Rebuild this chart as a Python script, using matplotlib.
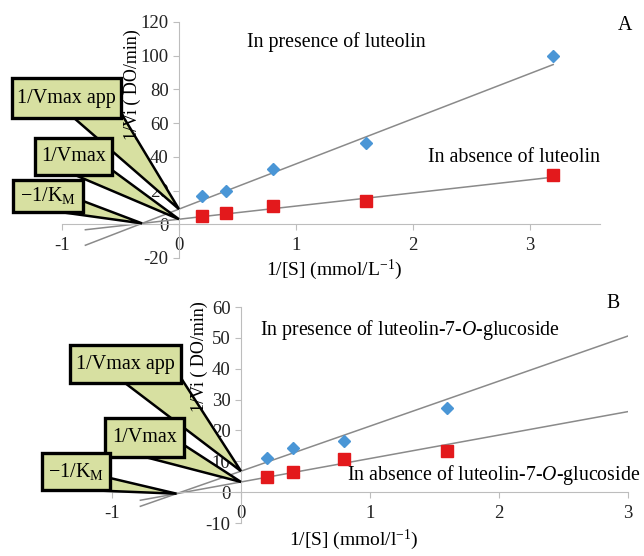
import matplotlib.pyplot as plt
from matplotlib.patches import Polygon, Rectangle
import numpy as np

plt.rcParams['font.family'] = ['Liberation Serif', 'DejaVu Serif']
plt.rcParams['mathtext.fontset'] = 'custom'
plt.rcParams['mathtext.rm'] = 'Liberation Serif'
plt.rcParams['mathtext.it'] = 'Liberation Serif:italic'
plt.rcParams['axes.unicode_minus'] = False

# 1/[S] values used in both panels
inv_s_a = [0.2, 0.4, 0.8, 1.6, 3.2]
inv_s_b = [0.2, 0.4, 0.8, 1.6]

# panel A: luteolin
pres_a = [16.6, 20, 33, 48, 100]
abs_a = [4.7, 6.5, 10.7, 13.6, 29]
# trend lines (intercept, slope) and their x range
line_pres_a = [9.0, 26.8]
line_abs_a = [3.0, 7.8]
line_range_a = [-0.8, 3.2]

# panel B: luteolin-7-O-glucoside
pres_b = [11, 14.3, 16.6, 27.3]
abs_b = [4.9, 6.5, 10.7, 13.3]
line_pres_b = [6.8, 14.6]
line_abs_b = [3.3, 7.6]
line_range_b = [-0.78, 3.0]

W, H = 644, 556
fig = plt.figure(figsize=(W / 100, H / 100), dpi=100)

BOX = '#d7e0a1'
BLUE = '#4a96d6'
RED = '#e3191c'
GRID = '#bdbdbd'


def px(x0, y0, x1, y1):
    # pixel box (top-left origin) -> figure fraction rect
    return [x0 / W, 1 - y1 / H, (x1 - x0) / W, (y1 - y0) / H]


def ff(x, y):
    return (x / W, 1 - y / H)


def setup(ax, xlim, ylim, yticks, xticks):
    ax.set_xlim(*xlim)
    ax.set_ylim(*ylim)
    for s in ['top', 'right']:
        ax.spines[s].set_visible(False)
    ax.spines['left'].set_position(('data', 0))
    ax.spines['bottom'].set_position(('data', 0))
    for s in ['left', 'bottom']:
        ax.spines[s].set_color(GRID)
    ax.set_yticks(yticks)
    ax.set_xticks(xticks)
    ax.tick_params(colors=GRID, labelcolor='#222222', labelsize=13.5, length=4)
    ax.tick_params(axis='x', pad=5)
    ax.patch.set_alpha(0)


def callout(ax, text, xy, box, base):
    # box: (x0, y0, x1, y1) in pixels, base: two pixel points where the wedge leaves the box
    tip = fig.transFigure.inverted().transform(ax.transData.transform(xy))
    wedge = Polygon([ff(*base[0]), tuple(tip), ff(*base[1])], closed=True,
                    transform=fig.transFigure, fc=BOX, ec='black', lw=1.8,
                    joinstyle='miter', zorder=5)
    fig.add_artist(wedge)
    x0, y0, x1, y1 = box
    rect = Rectangle(ff(x0, y1), (x1 - x0) / W, (y1 - y0) / H, transform=fig.transFigure,
                     fc=BOX, ec='black', lw=2.4, zorder=6)
    fig.add_artist(rect)
    fig.text((x0 + x1) / 2 / W, 1 - (y0 + y1) / 2 / H, text, ha='center', va='center',
             fontsize=14.5, zorder=7)


def draw_panel(ax, x, pres, absn, lp, la, lr):
    xs = np.array(lr)
    ax.plot(xs, lp[0] + lp[1] * xs, color='#8a8a8a', lw=1.1, zorder=2)
    ax.plot(xs, la[0] + la[1] * xs, color='#8a8a8a', lw=1.1, zorder=2)
    ax.plot(x, pres, 'D', color=BLUE, ms=6.5, zorder=3, clip_on=False)
    ax.plot(x, absn, 's', color=RED, ms=8, zorder=3, clip_on=False)
    xi = (la[0] - lp[0]) / (lp[1] - la[1])
    return xi, la[0] + la[1] * xi


# ---- panel A ----
ax1 = fig.add_axes(px(62, 22, 600, 258))
setup(ax1, (-1, 3.6), (-20, 120), range(-20, 121, 20), [-1, 0, 1, 2, 3])
xi, yi = draw_panel(ax1, inv_s_a, pres_a, abs_a, line_pres_a, line_abs_a, line_range_a)
callout(ax1, '1/Vmax app', (0, line_pres_a[0]), (12, 78, 121, 118), [(74, 118), (121, 113)])
callout(ax1, '1/Vmax', (0, line_abs_a[0]), (35, 138, 112, 175), [(75, 175), (112, 170)])
callout(ax1, '\u22121/K$_\\mathrm{M}$', (xi, yi), (13, 180, 83, 212), [(60, 212), (83, 201)])

fig.text(132 / W, 1 - 85 / H, '1/Vi ( DO/min)', rotation=90, ha='center', va='center',
         fontsize=13, zorder=8)
fig.text(334 / W, 1 - 270 / H, '1/[S] (mmol/L$^{-1}$)', ha='center', va='center', fontsize=14)
fig.text(247 / W, 1 - 42 / H, 'In presence of luteolin', ha='left', va='center', fontsize=14.3)
fig.text(428 / W, 1 - 158 / H, 'In absence of luteolin', ha='left', va='center', fontsize=14.3)
fig.text(625 / W, 1 - 26 / H, 'A', ha='center', va='center', fontsize=14.3)

# ---- panel B ----
ax2 = fig.add_axes(px(112, 307, 628, 523))
setup(ax2, (-1, 3), (-10, 60), range(-10, 61, 10), [-1, 0, 1, 2, 3])
xi, yi = draw_panel(ax2, inv_s_b, pres_b, abs_b, line_pres_b, line_abs_b, line_range_b)
callout(ax2, '1/Vmax app', (0, line_pres_b[0]), (70, 345, 181, 383), [(125, 383), (181, 378)])
callout(ax2, '1/Vmax', (0, line_abs_b[0]), (105, 418, 184, 457), [(145, 457), (184, 445)])
callout(ax2, '\u22121/K$_\\mathrm{M}$', (xi, yi), (42, 453, 110, 490), [(85, 490), (110, 478)])

fig.text(199 / W, 1 - 357 / H, '1/Vi ( DO/min)', rotation=90, ha='center', va='center',
         fontsize=13, zorder=8)
fig.text(354 / W, 1 - 540 / H, '1/[S] (mmol/l$^{-1}$)', ha='center', va='center', fontsize=14)
fig.text(260 / W, 1 - 330 / H, 'In presence of luteolin-7-$\\mathit{O}$-glucoside', ha='left', va='center', fontsize=14.3)
fig.text(347 / W, 1 - 475 / H, 'In absence of luteolin-7-$\\mathit{O}$-glucoside', ha='left', va='center', fontsize=14.3)
fig.text(613 / W, 1 - 303 / H, 'B', ha='center', va='center', fontsize=14.3)

fig.savefig('out.png', dpi=100)
